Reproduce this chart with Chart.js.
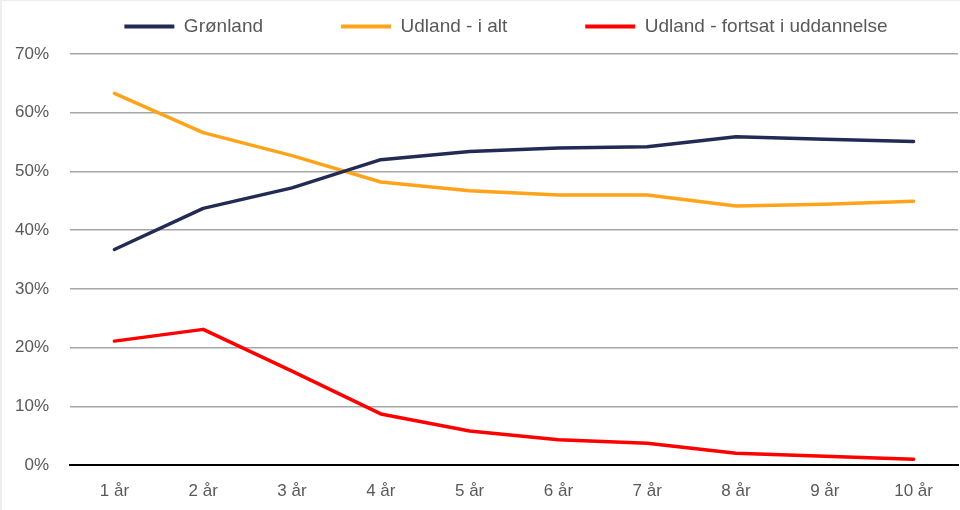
<!DOCTYPE html>
<html>
<head>
<meta charset="utf-8">
<script src="https://cdn.jsdelivr.net/npm/chart.js@4/dist/chart.umd.min.js"></script>
<style>
  html, body { margin: 0; padding: 0; background: #fff; }
  #wrap { position: relative; width: 960px; height: 510px; box-shadow: inset 2px 1px 0 #eeeeee; }
</style>
</head>
<body>
<div id="wrap"><canvas id="c"></canvas></div>
<script>
"use strict";

const YEARS = ["1 år", "2 år", "3 år", "4 år", "5 år", "6 år", "7 år", "8 år", "9 år", "10 år"];
const GRONLAND = [36.7, 43.7, 47.2, 52.0, 53.4, 54.0, 54.2, 55.9, 55.5, 55.1];
const UDLAND = [63.3, 56.6, 52.7, 48.2, 46.7, 46.0, 46.0, 44.1, 44.4, 44.9];
const UDLAND_UDD = [21.1, 23.1, 16.0, 8.7, 5.8, 4.3, 3.7, 2.0, 1.5, 1.0];

const TEXT = "#595959";
const FONT = "'Liberation Sans', Arial, sans-serif";

function line(label, data, color) {
  return { label, data, borderColor: color, backgroundColor: color, borderWidth: 3.5,
           pointRadius: 0, tension: 0, borderCapStyle: "round", borderJoinStyle: "round" };
}

// legend sits higher and a bit right of centre in the reference
const legendShift = {
  id: "legendShift",
  afterLayout(chart) {
    const l = chart.legend;
    l.top -= 61;
    l.left += 27; l.right += 27;
  },
};

new Chart(document.getElementById("c"), {
  type: "line",
  data: {
    labels: YEARS,
    datasets: [
      line("Grønland", GRONLAND, "#232b55"),
      line("Udland - i alt", UDLAND, "#ffa31a"),
      line("Udland - fortsat i uddannelse", UDLAND_UDD, "#ff0000"),
    ],
  },
  options: {
    responsive: true,
    maintainAspectRatio: false,
    animation: false,
    layout: { padding: { left: 0, right: 2, top: 0, bottom: 0 } },
    plugins: {
      tooltip: { enabled: false },
      legend: {
        position: "top",
        maxHeight: 54,
        labels: {
          color: TEXT,
          font: { family: FONT, size: 19 },
          boxWidth: 50,
          boxHeight: 4,
          padding: 78,
          generateLabels: (chart) =>
            Chart.defaults.plugins.legend.labels.generateLabels(chart).map((l) => ({ ...l, lineWidth: 0 })),
        },
      },
    },
    scales: {
      x: {
        offset: true,
        afterFit: (a) => { a.height = 45; },
        grid: { display: false, drawTicks: false },
        border: { color: "#000", width: 2 },
        ticks: { color: TEXT, font: { family: FONT, size: 17 }, padding: 16, maxRotation: 0 },
      },
      y: {
        min: 0,
        max: 70,
        afterFit: (a) => { a.width = 70; },
        grid: { color: "#a6a6a6", lineWidth: 1.5, drawTicks: false },
        border: { display: false },
        ticks: { stepSize: 10, color: TEXT, font: { family: FONT, size: 17 }, padding: 21,
                 callback: (v) => v + "%" },
      },
    },
  },
  plugins: [legendShift],
});
</script>
</body>
</html>
